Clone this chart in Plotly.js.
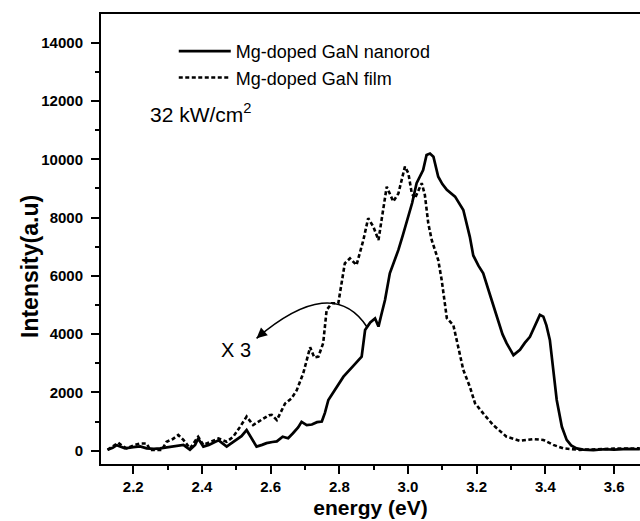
<!DOCTYPE html>
<html>
<head>
<meta charset="utf-8">
<script src="https://cdn.plot.ly/plotly-3.0.1.min.js"></script>
<style>html,body{margin:0;padding:0;background:#fff;}#chart{width:640px;height:521px;}</style>
</head>
<body>
<div id="chart"></div>
<script>
// Mg-doped GaN nanorod (solid)
var nanorodEnergy = [2.125,2.140,2.152,2.165,2.176,2.200,2.220,2.239,2.260,2.278,2.300,2.316,2.330,2.346,2.365,2.380,2.389,2.404,2.420,2.435,2.448,2.460,2.472,2.485,2.501,2.515,2.530,2.545,2.559,2.575,2.588,2.605,2.618,2.635,2.651,2.665,2.680,2.690,2.705,2.720,2.735,2.749,2.758,2.768,2.790,2.812,2.840,2.865,2.875,2.890,2.904,2.914,2.923,2.933,2.947,2.960,2.972,2.985,3.001,3.012,3.025,3.044,3.054,3.064,3.074,3.088,3.100,3.113,3.137,3.161,3.180,3.190,3.205,3.219,3.240,3.258,3.275,3.287,3.307,3.326,3.340,3.355,3.370,3.384,3.394,3.403,3.413,3.423,3.433,3.448,3.462,3.475,3.491,3.510,3.540,3.570,3.600,3.640,3.675];
var nanorodIntensity = [30,100,190,120,80,120,150,80,60,80,120,140,180,200,30,200,420,140,200,300,360,250,140,250,370,500,710,400,140,200,260,300,320,480,430,600,800,990,880,900,980,1000,1300,1740,2150,2540,2900,3230,4140,4400,4540,4260,4700,5170,6090,6500,6890,7400,8030,8500,9180,9630,10150,10200,10090,9400,9150,8950,8720,8260,7340,6700,6350,6090,5300,4600,4000,3690,3280,3460,3700,3910,4300,4660,4600,4300,3800,2770,1740,820,370,180,80,40,20,50,40,60,50];

// Mg-doped GaN film (dashed, x3)
var filmEnergy = [2.125,2.140,2.156,2.170,2.181,2.200,2.220,2.239,2.249,2.265,2.283,2.297,2.315,2.331,2.346,2.365,2.389,2.404,2.425,2.448,2.472,2.491,2.510,2.530,2.549,2.565,2.579,2.595,2.603,2.618,2.642,2.661,2.676,2.695,2.715,2.727,2.739,2.753,2.763,2.778,2.797,2.807,2.816,2.831,2.850,2.870,2.884,2.899,2.914,2.923,2.938,2.957,2.972,2.991,3.001,3.011,3.020,3.040,3.049,3.059,3.069,3.088,3.098,3.113,3.132,3.146,3.161,3.180,3.195,3.219,3.248,3.287,3.326,3.365,3.394,3.423,3.452,3.500,3.550,3.600,3.675];
var filmIntensity = [30,150,275,150,80,180,250,250,30,30,30,310,400,540,370,80,480,200,300,420,310,480,800,1170,880,1000,1110,1220,1230,1050,1620,1800,2080,2660,3550,3200,3230,3690,4830,5060,5060,5750,6430,6600,6370,7230,7980,7690,7230,7920,9060,8550,8830,9750,9520,8830,8660,9180,8780,7800,7230,6540,5860,4550,4310,3570,2770,2200,1630,1280,880,480,340,400,370,200,80,30,60,70,80];

var seriesNames = ['Mg-doped GaN nanorod', 'Mg-doped GaN film'];
var xTickVals = [2.2,2.4,2.6,2.8,3.0,3.2,3.4,3.6];
var yTickVals = [0,2000,4000,6000,8000,10000,12000,14000];

var FONT = 'Liberation Sans, Arial, sans-serif';

var traces = [
  {x: nanorodEnergy, y: nanorodIntensity, name: seriesNames[0], mode: 'lines',
   line: {color: '#000', width: 2.7, shape: 'linear'}},
  {x: filmEnergy, y: filmIntensity, name: seriesNames[1], mode: 'lines',
   line: {color: '#000', width: 2.6, dash: '4px,2.5px'}}
];

// curved arrow (quadratic bezier in data coordinates)
var p0 = [2.88, 4255], c = [2.7785, 6060], p2 = [2.559, 3857];

var layout = {
  width: 640, height: 521,
  margin: {l: 101, r: 0, t: 14, b: 57, pad: 0},
  paper_bgcolor: '#fff', plot_bgcolor: '#fff',
  font: {family: FONT, color: '#000'},
  showlegend: true,
  legend: {x: 0.135, y: 0.958, xanchor: 'left', yanchor: 'top', bgcolor: 'rgba(0,0,0,0)',
           itemwidth: 52,
           font: {size: 18, family: FONT, color: '#000'}, tracegroupgap: 0},
  xaxis: {
    range: [2.106, 3.6755], showgrid: false, zeroline: false,
    showline: true, linewidth: 2, linecolor: '#000', mirror: true,
    ticks: 'outside', ticklen: 8, tickwidth: 2, tickcolor: '#000',
    tickvals: xTickVals, ticktext: xTickVals.map(function(v){return v.toFixed(1);}),
    tickfont: {size: 15, family: FONT, weight: 'bold', color: '#000'},
    minor: {dtick: 0.1, tick0: 2.1, ticks: 'outside', ticklen: 4, tickwidth: 2, tickcolor: '#000'},
    title: {text: '<b>energy (eV)</b>', font: {size: 21, family: FONT, color: '#000'}, standoff: 6}
  },
  yaxis: {
    range: [-456, 14986], showgrid: false, zeroline: false,
    showline: true, linewidth: 2, linecolor: '#000',
    ticks: 'outside', ticklen: 8, tickwidth: 2, tickcolor: '#000',
    ticklabelstandoff: 5,
    tickvals: yTickVals, ticktext: yTickVals.map(function(v){return String(v);}),
    tickfont: {size: 15, family: FONT, weight: 'bold', color: '#000'},
    minor: {dtick: 1000, tick0: 0, ticks: 'outside', ticklen: 4, tickwidth: 2, tickcolor: '#000'}
  },
  shapes: [
    {type: 'path', xref: 'x', yref: 'y',
     path: 'M ' + p0[0] + ',' + p0[1] + ' Q ' + c[0] + ',' + c[1] + ' ' + p2[0] + ',' + p2[1],
     line: {color: '#000', width: 1.6}}
  ],
  annotations: [
    {x: p2[0], y: p2[1], xref: 'x', yref: 'y', text: '', showarrow: true,
     ax: 8, ay: -7, arrowhead: 2, arrowsize: 1.3, arrowwidth: 1.6, arrowcolor: '#000'},
    {x: 2.242, y: 11589, xref: 'x', yref: 'y', xanchor: 'left', yanchor: 'middle',
     text: '32 kW/cm<sup>2</sup>', showarrow: false, font: {size: 21, family: FONT, color: '#000'}},
    {x: 2.499, y: 3439, xref: 'x', yref: 'y', xanchor: 'center', yanchor: 'middle',
     text: 'X 3', showarrow: false, font: {size: 20, family: FONT, color: '#000'}},
    {x: -0.1317, y: 0.4378, xref: 'paper', yref: 'paper', xanchor: 'center', yanchor: 'middle',
     text: '<b>Intensity(a.u)</b>', textangle: -90, showarrow: false,
     font: {size: 23, family: FONT, color: '#000'}}
  ]
};

Plotly.newPlot('chart', traces, layout, {staticPlot: true, displayModeBar: false});
</script>
</body>
</html>
